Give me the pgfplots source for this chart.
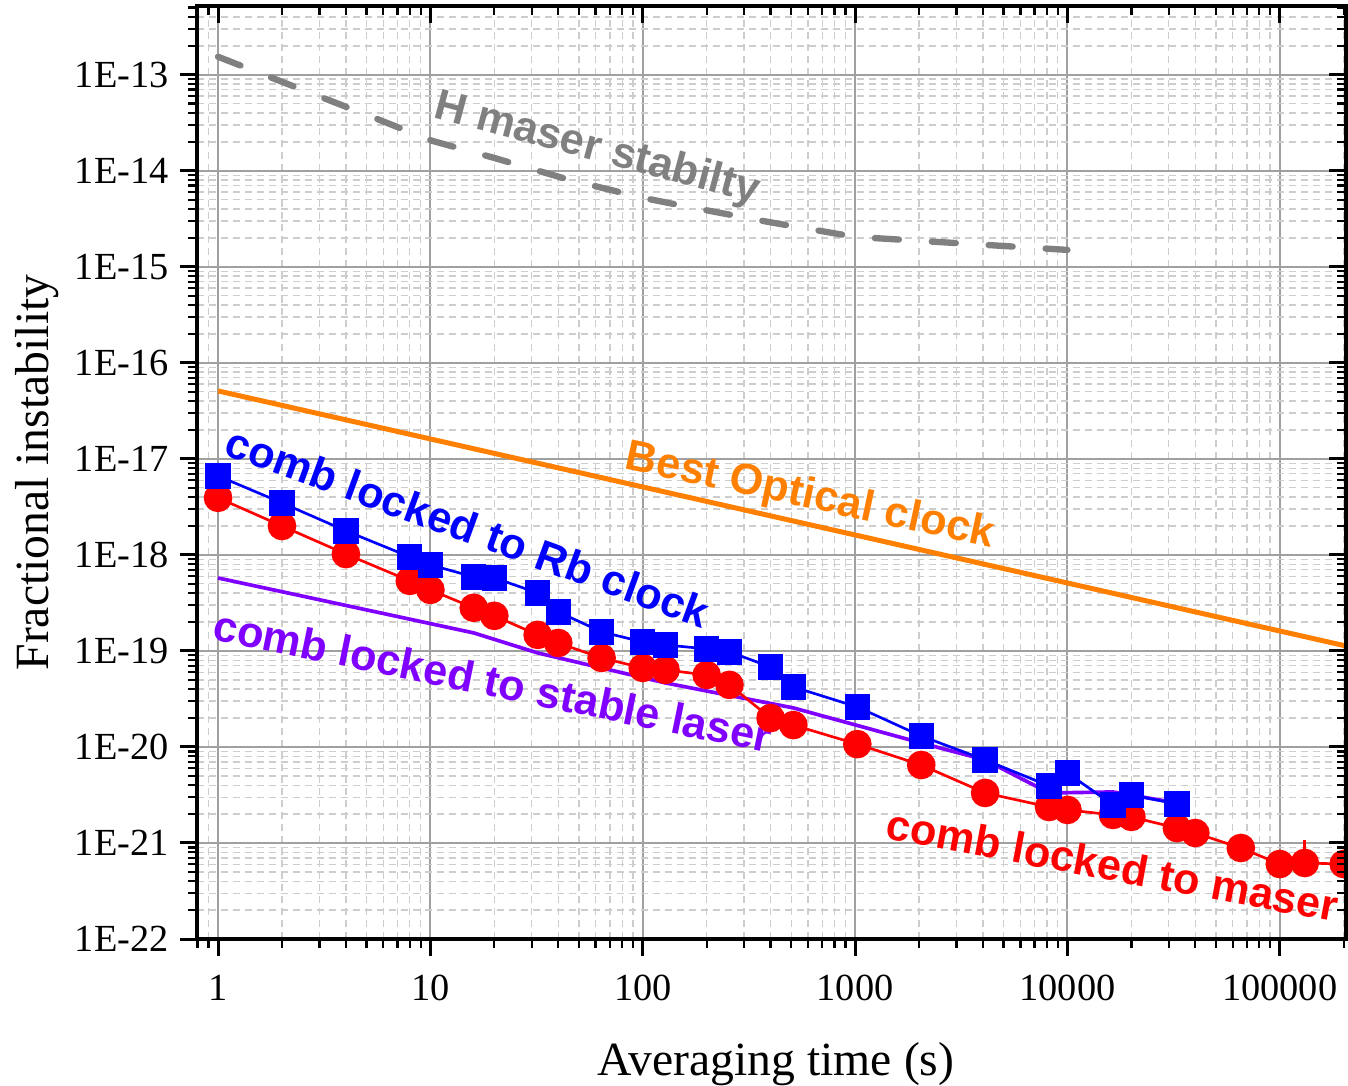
\documentclass[border=0pt]{standalone}
\usepackage{fontspec}
\setmainfont{Liberation Serif}
\setsansfont{Liberation Sans}
\usepackage{pgfplots}
\pgfplotsset{compat=1.18}
\definecolor{cblue}{RGB}{0,0,255}
\definecolor{cred}{RGB}{255,0,0}
\definecolor{cpurple}{RGB}{128,0,255}
\definecolor{corange}{RGB}{255,128,0}
\definecolor{cgray}{RGB}{128,128,128}
\definecolor{majgrid}{RGB}{160,160,160}
\definecolor{mingrid}{RGB}{205,205,205}
\begin{document}
\begin{tikzpicture}
\begin{axis}[
  xmode=log, ymode=log,
  scale only axis, width=344.7pt, height=279.9pt,
  xmin=0.796, xmax=2.05e5, ymin=1e-22, ymax=5.2e-13,
  xtick={1,10,100,1000,10000,100000},
  ytick={1e-22,1e-21,1e-20,1e-19,1e-18,1e-17,1e-16,1e-15,1e-14,1e-13},
  minor xtick={0.8,0.9,2,3,4,5,6,7,8,9,20,30,40,50,60,70,80,90,200,300,400,500,600,700,800,900,2000,3000,4000,5000,6000,7000,8000,9000,20000,30000,40000,50000,60000,70000,80000,90000,200000},
  minor ytick={2e-22,3e-22,4e-22,5e-22,6e-22,7e-22,8e-22,9e-22,
   2e-21,3e-21,4e-21,5e-21,6e-21,7e-21,8e-21,9e-21,
   2e-20,3e-20,4e-20,5e-20,6e-20,7e-20,8e-20,9e-20,
   2e-19,3e-19,4e-19,5e-19,6e-19,7e-19,8e-19,9e-19,
   2e-18,3e-18,4e-18,5e-18,6e-18,7e-18,8e-18,9e-18,
   2e-17,3e-17,4e-17,5e-17,6e-17,7e-17,8e-17,9e-17,
   2e-16,3e-16,4e-16,5e-16,6e-16,7e-16,8e-16,9e-16,
   2e-15,3e-15,4e-15,5e-15,6e-15,7e-15,8e-15,9e-15,
   2e-14,3e-14,4e-14,5e-14,6e-14,7e-14,8e-14,9e-14,
   2e-13,3e-13,4e-13,5e-13},
  axis line style={line width=1pt, black},
  major tick length=5pt, minor tick length=2.7pt,
  major tick style={line width=0.9pt, black},
  minor tick style={line width=0.7pt, black},
  tick align=outside, xtick pos=left, ytick pos=left,
  xticklabels={1,10,100,1000,10000,100000},
  yticklabels={1E-22,1E-21,1E-20,1E-19,1E-18,1E-17,1E-16,1E-15,1E-14,1E-13},
  tick label style={font=\fontsize{11.5}{13}\selectfont},
  xticklabel style={yshift=-2.4pt},
  grid=both,
  major grid style={majgrid, line width=0.6pt, solid},
  minor grid style={mingrid, line width=0.4pt, dash pattern=on 2.1pt off 1.5pt},
  xlabel={Averaging time (s)},
  ylabel={Fractional instability},
  label style={font=\fontsize{14.3}{17}\selectfont},
  xlabel style={at={(axis description cs:0.504,-0.134)}, anchor=center},
  ylabel style={at={(axis description cs:-0.139,0.5)}, anchor=center},
]
\addplot[corange, line width=1.5pt] coordinates {(1,5.1e-17) (2.05e5,1.126e-19)};
\addplot[cgray, line width=1.9pt, line cap=round, dash pattern=on 7.2pt off 9.9pt] coordinates {
 (1,1.54e-13) (2,8.45e-14) (5,3.83e-14) (10.2,2.05e-14) (20,1.36e-14) (45,8.06e-15)
 (100,5.23e-15) (155,4.31e-15) (388,2.94e-15) (1000,2.05e-15) (10000,1.50e-15)};
\addplot[cpurple, line width=1.1pt] coordinates {
 (1,5.75e-19) (16,1.54e-19) (32,9.53e-20) (128,4.64e-20) (512,2.55e-20)
 (2048,1.10e-20) (4096,7.33e-21) (8192,3.32e-21) (16384,3.40e-21) (32768,2.61e-21)};
\addplot[cred, mark=none, forget plot,
  error bars/.cd, y dir=plus, y explicit,
  error bar style={line width=0.8pt, cred},
  error mark options={cred, mark size=3pt, line width=0.8pt}]
  coordinates {(131072,6.19e-22) +- (0,2.26e-22)};
\addplot[cred, line width=0.8pt, mark=*, mark size=3.9pt, mark options={solid, fill=cred, draw=cred}] coordinates {
 (1,3.93e-18) (2,2.00e-18) (4,1.02e-18) (8,5.36e-19) (10,4.32e-19) (16,2.81e-19) (20,2.32e-19)
 (32,1.47e-19) (40,1.21e-19) (64,8.45e-20) (100,6.65e-20) (128,6.34e-20) (200,5.62e-20) (256,4.43e-20)
 (400,2.00e-20) (512,1.69e-20) (1024,1.07e-20) (2048,6.49e-21) (4096,3.32e-21) (8192,2.37e-21)
 (10000,2.21e-21) (16384,1.96e-21) (20000,1.87e-21) (32768,1.43e-21) (40000,1.27e-21)
 (65536,8.87e-22) (100000,6.04e-22) (131072,6.19e-22) (200000,6.04e-22)};
\addplot[cblue, line width=0.8pt, mark=square*, mark size=3.4pt, mark options={solid, fill=cblue, draw=cblue}] coordinates {
 (1,6.65e-18) (2,3.48e-18) (4,1.78e-18) (8,9.53e-19) (10,7.87e-19) (16,5.90e-19) (20,5.76e-19)
 (32,4.02e-19) (40,2.55e-19) (64,1.58e-19) (100,1.24e-19) (128,1.155e-19) (200,1.05e-19) (256,9.77e-20)
 (400,6.81e-20) (512,4.22e-20) (1024,2.61e-20) (2048,1.30e-20) (4096,7.33e-21) (8192,3.93e-21)
 (10000,5.36e-21) (16384,2.49e-21) (20000,3.16e-21) (32768,2.55e-21)};
\node[cgray, font=\sffamily\bfseries\fontsize{13}{15}\selectfont, rotate=-15, inner sep=0pt] at (rel axis cs:0.348,0.846) {H maser stabilty};
\node[corange, font=\sffamily\bfseries\fontsize{13}{15}\selectfont, rotate=-12, inner sep=0pt] at (rel axis cs:0.5335,0.4737) {Best Optical clock};
\node[cblue, font=\sffamily\bfseries\fontsize{13}{15}\selectfont, rotate=-20, inner sep=0pt] at (rel axis cs:0.2359,0.4416) {comb locked to Rb clock};
\node[cpurple, font=\sffamily\bfseries\fontsize{13}{15}\selectfont, rotate=-11.5, inner sep=0pt] at (rel axis cs:0.2576,0.2765) {comb locked to stable laser};
\node[cred, font=\sffamily\bfseries\fontsize{13}{15}\selectfont, rotate=-10.5, inner sep=0pt] at (rel axis cs:0.797,0.0793) {comb locked to maser};
\coordinate (BL) at (rel axis cs:0,0);
\coordinate (TR) at (rel axis cs:1,1);
\end{axis}
\begin{axis}[
  xmode=log, ymode=log,
  scale only axis, width=344.7pt, height=279.9pt,
  xmin=0.796, xmax=2.05e5, ymin=1e-22, ymax=5.2e-13,
  xtick={1,10,100,1000,10000,100000},
  ytick={1e-22,1e-21,1e-20,1e-19,1e-18,1e-17,1e-16,1e-15,1e-14,1e-13},
  minor xtick={0.8,0.9,2,3,4,5,6,7,8,9,20,30,40,50,60,70,80,90,200,300,400,500,600,700,800,900,2000,3000,4000,5000,6000,7000,8000,9000,20000,30000,40000,50000,60000,70000,80000,90000,200000},
  minor ytick={2e-22,3e-22,4e-22,5e-22,6e-22,7e-22,8e-22,9e-22,
   2e-21,3e-21,4e-21,5e-21,6e-21,7e-21,8e-21,9e-21,
   2e-20,3e-20,4e-20,5e-20,6e-20,7e-20,8e-20,9e-20,
   2e-19,3e-19,4e-19,5e-19,6e-19,7e-19,8e-19,9e-19,
   2e-18,3e-18,4e-18,5e-18,6e-18,7e-18,8e-18,9e-18,
   2e-17,3e-17,4e-17,5e-17,6e-17,7e-17,8e-17,9e-17,
   2e-16,3e-16,4e-16,5e-16,6e-16,7e-16,8e-16,9e-16,
   2e-15,3e-15,4e-15,5e-15,6e-15,7e-15,8e-15,9e-15,
   2e-14,3e-14,4e-14,5e-14,6e-14,7e-14,8e-14,9e-14,
   2e-13,3e-13,4e-13,5e-13},
  axis line style={line width=1pt, black},
  major tick length=5pt, minor tick length=2.7pt,
  major tick style={line width=0.9pt, black},
  minor tick style={line width=0.7pt, black},
  tick align=inside, xtick pos=right, ytick pos=right,
  xticklabels={}, yticklabels={},
]
\addplot[draw=none, forget plot] coordinates {(1,1e-20)};
\end{axis}
\path (BL) ++(-59.1pt,-44.1pt) coordinate (P1);
\path (TR) ++(0.6pt,1.8pt) coordinate (P2);
\pgfresetboundingbox
\path[use as bounding box] (P1) rectangle (P2);
\end{tikzpicture}
\end{document}
